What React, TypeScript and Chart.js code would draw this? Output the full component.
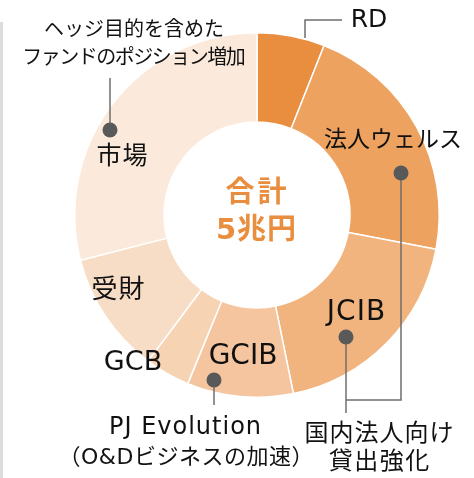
import React, { useEffect, useRef } from "react";
import { Chart, registerables } from "chart.js";

Chart.register(...registerables);

// ---- data (兆円) ----
const categories = ["RD", "法人ウェルス", "JCIB", "GCIB", "GCB", "受財", "市場"];
const values = [0.3, 1.1, 0.94, 0.47, 0.2, 0.54, 1.45];
const sliceColors = ["#E98E3F", "#EEA25F", "#F1B47E", "#F4C59F", "#F6D3B3", "#F8DDC6", "#FBEADB"];
const centerLines = ["合計", "5兆円"];
const noteMarket = ["ヘッジ目的を含めた", "ファンドのポジション増加"];
const noteGcib = ["PJ Evolution", "（O&Dビジネスの加速）"];
const noteDomestic = ["国内法人向け", "貸出強化"];

// ---- layout (offsets from the doughnut centre, px) ----
const labelOffsets: [number, number][] = [
  [112, -195],
  [136, -74],
  [99, 98],
  [-14, 142],
  [-124, 148],
  [-139, 76],
  [-135, -58],
];
// [size, letterSpacing]
const labelFonts: [number, number][] = [
  [25, 0],
  [23, 0],
  [28, 1],
  [28, 0],
  [27, 0],
  [26, 1],
  [25, 1],
];

const FONT = '"DejaVu Sans", "Noto Sans CJK JP", sans-serif';

const annotPlugin = {
  id: "annot",
  afterDraw(chart: any) {
    const arc = chart.getDatasetMeta(0).data[0];
    if (!arc) return;
    const { x: cx, y: cy } = arc.getProps(["x", "y"], true);
    const ctx = chart.ctx as CanvasRenderingContext2D;
    ctx.save();
    ctx.textAlign = "center";
    ctx.textBaseline = "middle";

    const text = (s: string, dx: number, dy: number, size: number, sp: number, bold = false) => {
      ctx.font = `${bold ? "bold " : ""}${size}px ${FONT}`;
      (ctx as any).letterSpacing = `${sp}px`;
      ctx.fillText(s, cx + dx + sp / 2, cy + dy);
    };

    // centre text
    ctx.fillStyle = "#E98E3F";
    text(centerLines[0], -1, -21, 29, 3, true);
    text(centerLines[1], -1, 16, 29, 1, true);

    // callout lines
    ctx.strokeStyle = "#6E6E6E";
    ctx.lineWidth = 1.5;
    const poly = (pts: [number, number][]) => {
      ctx.beginPath();
      pts.forEach(([dx, dy], i) => (i ? ctx.lineTo(cx + dx, cy + dy) : ctx.moveTo(cx + dx, cy + dy)));
      ctx.stroke();
    };
    poly([[48, -177], [48, -195], [85, -195]]);
    poly([[-147, -85], [-147, -137]]);
    poly([[144, -42], [144, 185], [89, 185]]);
    poly([[89, 122], [89, 198]]);
    poly([[-43, 165], [-43, 190]]);

    ctx.fillStyle = "#595959";
    const dot = (dx: number, dy: number) => {
      ctx.beginPath();
      ctx.arc(cx + dx, cy + dy, 7.5, 0, Math.PI * 2);
      ctx.fill();
    };
    dot(-147, -85);
    dot(144, -42);
    dot(89, 122);
    dot(-43, 165);

    // segment labels
    ctx.fillStyle = "#111111";
    categories.forEach((c, i) => {
      const [dx, dy] = labelOffsets[i];
      const [size, sp] = labelFonts[i];
      text(c, dx, dy, size, sp);
    });

    // notes
    text(noteMarket[0], -123, -184, 20, 0);
    text(noteMarket[1], -123, -156, 20, -1.5);
    text(noteGcib[0], -72, 213, 24, 1);
    text(noteGcib[1], -71, 243, 22, 0.5);
    text(noteDomestic[0], 122, 220, 24, 1);
    text(noteDomestic[1], 122, 248, 24, 1.5);
    ctx.restore();
  },
};

export default function App() {
  const ref = useRef<HTMLCanvasElement>(null);
  useEffect(() => {
    document.body.style.margin = "0";
    const chart = new Chart(ref.current!, {
      type: "doughnut",
      data: {
        labels: categories,
        datasets: [
          {
            data: values,
            backgroundColor: sliceColors,
            borderColor: "#FFFFFF",
            borderWidth: 1.5,
          },
        ],
      },
      options: {
        animation: false,
        responsive: true,
        maintainAspectRatio: false,
        events: [],
        cutout: "51%",
        layout: { padding: { left: 74, right: 34, top: 32, bottom: 80 } },
        plugins: { legend: { display: false }, tooltip: { enabled: false } },
      },
      plugins: [annotPlugin],
    });
    return () => chart.destroy();
  }, []);
  return (
    <div style={{ position: "relative", width: 474, height: 478, background: "#fff" }}>
      <div style={{ position: "absolute", left: 0, top: 22, width: 3, height: 456, background: "#DCDCDC" }} />
      <canvas ref={ref} />
    </div>
  );
}
